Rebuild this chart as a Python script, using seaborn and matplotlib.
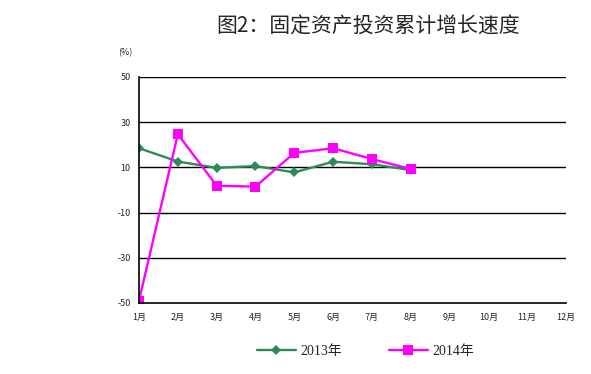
import pandas as pd
import seaborn as sns
from matplotlib import pyplot as plt

months = ['1月', '2月', '3月', '4月', '5月', '6月', '7月', '8月', '9月', '10月', '11月', '12月']
growth_2013 = [18.5, 12.6, 9.8, 10.6, 7.8, 12.5, 11.4, 8.8]
growth_2014 = [-49.0, 24.7, 1.9, 1.5, 16.4, 18.5, 13.7, 9.3]
y_ticks = [-50, -30, -10, 10, 30, 50]

df13 = pd.DataFrame({'pos': range(len(growth_2013)), 'value': growth_2013})
df14 = pd.DataFrame({'pos': range(len(growth_2014)), 'value': growth_2014})

sns.set_style('white')
plt.rcParams['font.family'] = ['Noto Sans CJK SC', 'DejaVu Sans']

fig = plt.figure(figsize=(5.91, 3.74), dpi=100)
ax = fig.add_axes([139 / 591, 1 - 303 / 374, 427 / 591, 226 / 374])

sns.lineplot(data=df13, x='pos', y='value', ax=ax, color='#2E8B57', linewidth=1.7,
             marker='D', markersize=5, markeredgewidth=0, label='2013年')
sns.lineplot(data=df14, x='pos', y='value', ax=ax, color='#FF00FF', linewidth=1.7,
             marker='s', markersize=7, markeredgewidth=0, label='2014年')

ax.set_xlim(0, 11)
ax.set_ylim(-50, 50)
ax.set_xticks(range(len(months)))
ax.set_xticklabels(months, fontsize=6.5)
ax.set_yticks(y_ticks)
ax.set_yticklabels([str(v) for v in y_ticks], fontsize=6.5)
ax.set_xlabel('')
ax.set_ylabel('')
ax.tick_params(axis='x', direction='out', length=4, width=1, color='black', pad=3)
ax.tick_params(axis='y', length=0, pad=6)

for v in y_ticks[1:]:
    ax.axhline(v, color='black', linewidth=1, zorder=0)
for side in ['top', 'right']:
    ax.spines[side].set_visible(False)
for side in ['left', 'bottom']:
    ax.spines[side].set_color('black')
    ax.spines[side].set_linewidth(1.2)

ax.text(-0.033, 1.106, '(%)', transform=ax.transAxes, fontsize=6.5, ha='center', va='center')
fig.text(0.623, 0.93, '图2：固定资产投资累计增长速度', ha='center', va='center', fontsize=15)

ax.legend(loc='center', bbox_to_anchor=(0.53, -0.215), ncol=2, frameon=False,
          prop={'family': ['Liberation Serif', 'Noto Sans CJK SC'], 'size': 10},
          handlelength=2.8, columnspacing=3.4, handletextpad=0.3)

fig.savefig('out.png', dpi=100)
